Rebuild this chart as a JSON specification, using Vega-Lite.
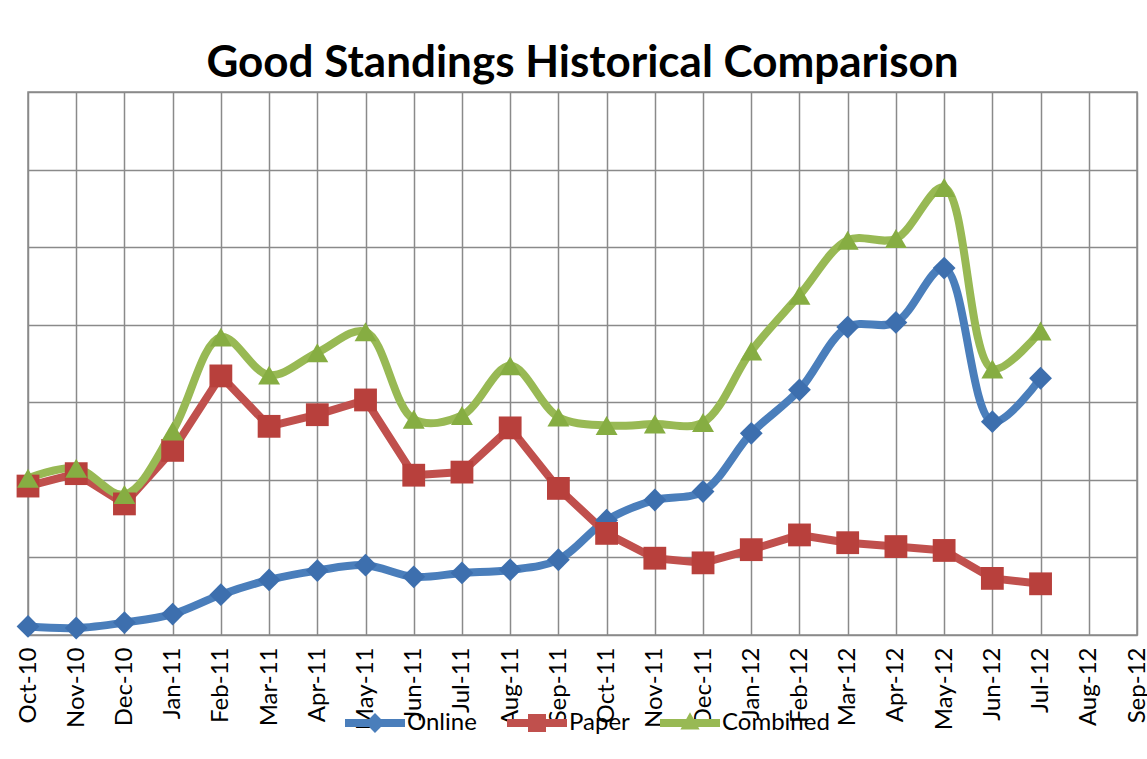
{
  "$schema": "https://vega.github.io/schema/vega-lite/v6.json",
  "autosize": "none",
  "width": 1109,
  "height": 543,
  "padding": {"left": 28, "top": 92, "right": 10, "bottom": 124},
  "background": "white",
  "title": {
    "text": "Good Standings Historical Comparison",
    "font": "Lato",
    "fontSize": 44,
    "fontWeight": "bold",
    "color": "black",
    "anchor": "middle",
    "offset": 6
  },
  "data": {
    "values": [
      {"month": "Oct-10", "series": "Online", "value": 11},
      {"month": "Nov-10", "series": "Online", "value": 9},
      {"month": "Dec-10", "series": "Online", "value": 16},
      {"month": "Jan-11", "series": "Online", "value": 27},
      {"month": "Feb-11", "series": "Online", "value": 52},
      {"month": "Mar-11", "series": "Online", "value": 71},
      {"month": "Apr-11", "series": "Online", "value": 83},
      {"month": "May-11", "series": "Online", "value": 90},
      {"month": "Jun-11", "series": "Online", "value": 75},
      {"month": "Jul-11", "series": "Online", "value": 80},
      {"month": "Aug-11", "series": "Online", "value": 84},
      {"month": "Sep-11", "series": "Online", "value": 97},
      {"month": "Oct-11", "series": "Online", "value": 148},
      {"month": "Nov-11", "series": "Online", "value": 174},
      {"month": "Dec-11", "series": "Online", "value": 185},
      {"month": "Jan-12", "series": "Online", "value": 260},
      {"month": "Feb-12", "series": "Online", "value": 316},
      {"month": "Mar-12", "series": "Online", "value": 397},
      {"month": "Apr-12", "series": "Online", "value": 403},
      {"month": "May-12", "series": "Online", "value": 473},
      {"month": "Jun-12", "series": "Online", "value": 275},
      {"month": "Jul-12", "series": "Online", "value": 331},
      {"month": "Oct-10", "series": "Paper", "value": 192},
      {"month": "Nov-10", "series": "Paper", "value": 208},
      {"month": "Dec-10", "series": "Paper", "value": 169},
      {"month": "Jan-11", "series": "Paper", "value": 238},
      {"month": "Feb-11", "series": "Paper", "value": 334},
      {"month": "Mar-11", "series": "Paper", "value": 269},
      {"month": "Apr-11", "series": "Paper", "value": 284},
      {"month": "May-11", "series": "Paper", "value": 303},
      {"month": "Jun-11", "series": "Paper", "value": 206},
      {"month": "Jul-11", "series": "Paper", "value": 210},
      {"month": "Aug-11", "series": "Paper", "value": 267},
      {"month": "Sep-11", "series": "Paper", "value": 189},
      {"month": "Oct-11", "series": "Paper", "value": 131},
      {"month": "Nov-11", "series": "Paper", "value": 99},
      {"month": "Dec-11", "series": "Paper", "value": 93},
      {"month": "Jan-12", "series": "Paper", "value": 110},
      {"month": "Feb-12", "series": "Paper", "value": 129},
      {"month": "Mar-12", "series": "Paper", "value": 119},
      {"month": "Apr-12", "series": "Paper", "value": 114},
      {"month": "May-12", "series": "Paper", "value": 109},
      {"month": "Jun-12", "series": "Paper", "value": 73},
      {"month": "Jul-12", "series": "Paper", "value": 66},
      {"month": "Oct-10", "series": "Combined", "value": 202},
      {"month": "Nov-10", "series": "Combined", "value": 215},
      {"month": "Dec-10", "series": "Combined", "value": 181},
      {"month": "Jan-11", "series": "Combined", "value": 263},
      {"month": "Feb-11", "series": "Combined", "value": 384},
      {"month": "Mar-11", "series": "Combined", "value": 335},
      {"month": "Apr-11", "series": "Combined", "value": 364},
      {"month": "May-11", "series": "Combined", "value": 391},
      {"month": "Jun-11", "series": "Combined", "value": 278},
      {"month": "Jul-11", "series": "Combined", "value": 283},
      {"month": "Aug-11", "series": "Combined", "value": 347},
      {"month": "Sep-11", "series": "Combined", "value": 281},
      {"month": "Oct-11", "series": "Combined", "value": 270},
      {"month": "Nov-11", "series": "Combined", "value": 272},
      {"month": "Dec-11", "series": "Combined", "value": 274},
      {"month": "Jan-12", "series": "Combined", "value": 366},
      {"month": "Feb-12", "series": "Combined", "value": 438},
      {"month": "Mar-12", "series": "Combined", "value": 509},
      {"month": "Apr-12", "series": "Combined", "value": 511},
      {"month": "May-12", "series": "Combined", "value": 577},
      {"month": "Jun-12", "series": "Combined", "value": 343},
      {"month": "Jul-12", "series": "Combined", "value": 392}
    ]
  },
  "encoding": {
    "x": {
      "field": "month",
      "type": "ordinal",
      "sort": null,
      "scale": {
        "type": "point",
        "padding": 0,
        "domain": ["Oct-10","Nov-10","Dec-10","Jan-11","Feb-11","Mar-11","Apr-11","May-11","Jun-11","Jul-11","Aug-11","Sep-11","Oct-11","Nov-11","Dec-11","Jan-12","Feb-12","Mar-12","Apr-12","May-12","Jun-12","Jul-12","Aug-12","Sep-12"]
      },
      "axis": {
        "title": null,
        "labelAngle": 270,
        "labelAlign": "right",
        "labelBaseline": "middle",
        "labelFont": "Lato",
        "labelFontSize": 24,
        "labelColor": "black",
        "labelPadding": 12,
        "labelOverlap": false,
        "ticks": false,
        "domain": false,
        "grid": true,
        "gridColor": "#8a8a8a",
        "gridWidth": 1.5,
        "gridOpacity": 1
      }
    },
    "y": {
      "field": "value",
      "type": "quantitative",
      "scale": {"domain": [0, 700], "nice": false},
      "axis": {
        "title": null,
        "labels": false,
        "ticks": false,
        "domain": false,
        "values": [0, 100, 200, 300, 400, 500, 600, 700],
        "grid": true,
        "gridColor": "#8a8a8a",
        "gridWidth": 1.5,
        "gridOpacity": 1
      }
    },
    "color": {
      "field": "series",
      "type": "nominal",
      "scale": {
        "domain": ["Online", "Paper", "Combined"],
        "range": ["#4a7ebb", "#c0504d", "#98b954"]
      },
      "legend": {
        "orient": "none",
        "legendX": 317,
        "legendY": 601,
        "direction": "horizontal",
        "title": null,
        "symbolType": "M-1,-0.13H1V0.13H-1Z",
        "symbolSize": 3600,
        "symbolStrokeWidth": 0,
        "labelFont": "Lato",
        "labelFontSize": 24,
        "labelColor": "black",
        "labelOffset": 2,
        "columnPadding": 30,
        "encode": {
          "symbols": {
            "update": {
              "shape": {"signal": "datum.value === 'Online' ? 'M-1,-0.13H1V0.13H-1Z M0,-0.33L0.33,0L0,0.33L-0.33,0Z' : datum.value === 'Paper' ? 'M-1,-0.13H1V0.13H-1Z M-0.3,-0.3H0.3V0.3H-0.3Z' : 'M-1,-0.13H1V0.13H-1Z M0,-0.36L0.32,0.22H-0.32Z'"}
            }
          }
        }
      }
    }
  },
  "layer": [
    {
      "transform": [{"filter": "datum.series === 'Online'"}],
      "mark": {"type": "line", "interpolate": "catmull-rom", "strokeWidth": 8, "strokeCap": "round", "strokeJoin": "round"}
    },
    {
      "transform": [{"filter": "datum.series === 'Paper'"}],
      "mark": {"type": "line", "interpolate": "linear", "strokeWidth": 8, "strokeCap": "round", "strokeJoin": "round"}
    },
    {
      "transform": [{"filter": "datum.series === 'Combined'"}],
      "mark": {"type": "line", "interpolate": "catmull-rom", "strokeWidth": 8, "strokeCap": "round", "strokeJoin": "round"}
    },
    {
      "transform": [{"filter": "datum.series === 'Online'"}],
      "mark": {"type": "point", "shape": "diamond", "filled": true, "opacity": 1, "size": 520, "strokeWidth": 0, "fill": "#3d6fae"}
    },
    {
      "transform": [{"filter": "datum.series === 'Paper'"}],
      "mark": {"type": "point", "shape": "square", "filled": true, "opacity": 1, "size": 520, "strokeWidth": 0, "fill": "#b8403c"}
    },
    {
      "transform": [{"filter": "datum.series === 'Combined'"}],
      "mark": {"type": "point", "shape": "triangle-up", "filled": true, "opacity": 1, "size": 480, "strokeWidth": 0, "fill": "#86ad42"}
    }
  ],
  "config": {
    "view": {"stroke": "#8a8a8a", "strokeWidth": 1.5}
  }
}
